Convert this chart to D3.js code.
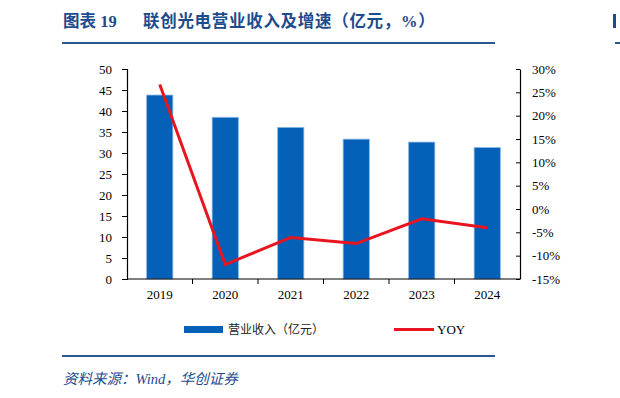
<!DOCTYPE html>
<html>
<head>
<meta charset="utf-8">
<script src="https://cdn.jsdelivr.net/npm/d3@7"></script>
<style>
  body { margin: 0; background: #fff; }
  svg { display: block; }
</style>
</head>
<body>
<svg id="chart" width="620" height="398"></svg>
<script>
var years = ['2019', '2020', '2021', '2022', '2023', '2024']
var revenue = [43.8, 38.5, 36.1, 33.3, 32.6, 31.3]
var yoy = [26.7, -11.9, -6.1, -7.4, -2.1, -4.0]
var leftTicks = [0, 5, 10, 15, 20, 25, 30, 35, 40, 45, 50]
var rightTicks = [-15, -10, -5, 0, 5, 10, 15, 20, 25, 30]

var svg = d3.select('#chart')
var navy = '#1d4b8b'
var serif = '"Liberation Serif", "Times New Roman", serif'
var cjk = '"Noto Sans CJK SC", sans-serif'

// title + rules
svg.append('text')
  .attr('x', 63).attr('y', 27)
  .style('font-family', serif + ',' + cjk)
  .style('font-size', '16.5px').style('font-weight', 'bold')
  .style('fill', navy)
  .text('图表 19')
svg.append('text')
  .attr('x', 143).attr('y', 27)
  .style('font-family', serif + ',' + cjk)
  .style('font-size', '16.5px').style('font-weight', 'bold')
  .style('letter-spacing', '0.7px')
  .style('fill', navy)
  .text('联创光电营业收入及增速（亿元，%）')
svg.append('rect').attr('x', 62).attr('y', 42).attr('width', 433).attr('height', 2).attr('fill', '#2b5893')
svg.append('rect').attr('x', 615).attr('y', 42).attr('width', 5).attr('height', 2).attr('fill', '#2b5893')
svg.append('rect').attr('x', 613).attr('y', 14).attr('width', 3).attr('height', 14).attr('fill', navy)
svg.append('rect').attr('x', 62).attr('y', 355).attr('width', 433).attr('height', 2).attr('fill', '#2b5893')
svg.append('text')
  .attr('x', 63).attr('y', 384)
  .style('font-family', serif + ',' + cjk)
  .style('font-size', '14.5px').style('font-style', 'italic')
  .style('fill', navy)
  .text('资料来源：Wind，华创证券')

var x0 = 127, x1 = 520, yTop = 69, yBot = 279
var x = d3.scaleBand().domain(years).range([x0, x1]).paddingInner(0).paddingOuter(0)
var yL = d3.scaleLinear().domain([0, 50]).range([yBot, yTop])
var yR = d3.scaleLinear().domain([-15, 30]).range([yBot, yTop])

var bw = x.bandwidth() * 0.4
svg.append('g').selectAll('rect').data(years).enter().append('rect')
  .attr('x', function(d) { return x(d) + (x.bandwidth() - bw) / 2 })
  .attr('y', function(d, i) { return yL(revenue[i]) })
  .attr('width', bw)
  .attr('height', function(d, i) { return yBot - yL(revenue[i]) })
  .attr('fill', '#0561b7')
  .attr('stroke', '#8ab6e2').attr('stroke-width', 0.8)

// axes
var axL = svg.append('g').attr('transform', 'translate(' + x0 + ',0)')
  .call(d3.axisLeft(yL).tickValues(leftTicks).tickSize(5).tickPadding(10))
var axR = svg.append('g').attr('transform', 'translate(' + x1 + ',0)')
  .call(d3.axisRight(yR).tickValues(rightTicks).tickSize(0).tickPadding(12)
    .tickFormat(function(d) { return d + '%' }))
axR.selectAll('.tick').append('line').attr('x1', -4).attr('x2', 0).attr('stroke', '#000')
var axB = svg.append('g').attr('transform', 'translate(0,' + yBot + ')')
  .call(d3.axisBottom(x).tickSize(0).tickPadding(11))
axB.select('.domain').attr('d', 'M' + x0 + ',0H' + x1)
axB.selectAll('.sep').data(years.slice(1)).enter().append('line')
  .attr('x1', function(d) { return x(d) }).attr('x2', function(d) { return x(d) })
  .attr('y1', 0).attr('y2', 5).attr('stroke', '#000')

;[axL, axR, axB].forEach(function(a) {
  a.select('.domain').attr('stroke', '#000').attr('stroke-width', 1.2)
  a.selectAll('text').style('font-family', serif).style('font-size', '13px').style('fill', '#000')
})

// YOY line
var line = d3.line()
  .x(function(d, i) { return x(years[i]) + x.bandwidth() / 2 })
  .y(function(d) { return yR(d) })
svg.append('path').datum(yoy)
  .attr('d', line)
  .attr('fill', 'none').attr('stroke', '#e8141f').attr('stroke-width', 3)

// legend
var lg = svg.append('g')
lg.append('rect').attr('x', 184).attr('y', 326).attr('width', 39).attr('height', 7).attr('fill', '#0561b7')
lg.append('text').attr('x', 228).attr('y', 334)
  .style('font-family', cjk).style('font-size', '12px').style('fill', '#222')
  .text('营业收入（亿元）')
lg.append('line').attr('x1', 394).attr('x2', 434).attr('y1', 329.5).attr('y2', 329.5)
  .attr('stroke', '#e8141f').attr('stroke-width', 3)
lg.append('text').attr('x', 437).attr('y', 334)
  .style('font-family', serif).style('font-size', '13px').style('fill', '#000')
  .text('YOY')
</script>
</body>
</html>
